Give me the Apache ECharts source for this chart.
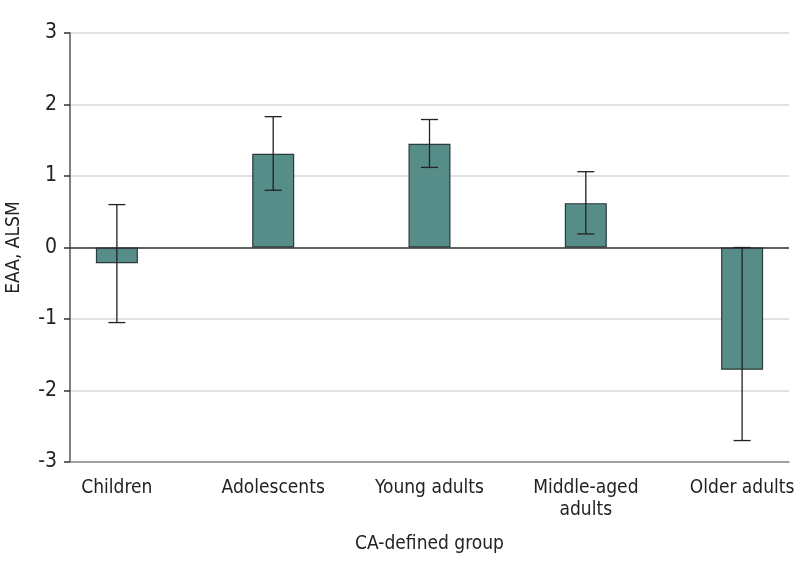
<!DOCTYPE html>
<html><head><meta charset="utf-8">
<script src="https://cdn.jsdelivr.net/npm/echarts@6/dist/echarts.min.js"></script>
<style>html,body{margin:0;padding:0;background:#fff}#c{width:798px;height:573px}</style>
</head><body><div id="c"></div>
<script>
const categories = ["Children", "Adolescents", "Young adults", "Middle-aged\nadults", "Older adults"];
const means = [-0.22, 1.31, 1.45, 0.62, -1.71];
const lower = [-1.05, 0.80, 1.12, 0.19, -2.70];
const upper = [0.60, 1.83, 1.79, 1.06, 0.00];
const yTicks = [-3, -2, -1, 0, 1, 2, 3];

const FONT = "'Liberation Sans Narrow', 'DejaVu Sans Condensed', 'Roboto Condensed', 'Liberation Sans', sans-serif";
const chart = echarts.init(document.getElementById('c'));
chart.setOption({
  animation: false,
  grid: { left: 70, right: 9, top: 33, bottom: 111, containLabel: false, outerBoundsMode: 'none' },
  xAxis: {
    type: 'value', min: -0.3, max: 4.3,
    name: 'CA-defined group', nameLocation: 'middle', nameGap: 73,
    nameTextStyle: { fontFamily: FONT, fontSize: 19, color: '#222' },
    axisLine: { show: true, onZero: false, lineStyle: { color: '#8c8c8c', width: 1.5 } },
    axisTick: { show: false },
    splitLine: { show: false },
    axisLabel: {
      customValues: [0, 1, 2, 3, 4], margin: 15,
      fontFamily: FONT, fontSize: 19, color: '#222', lineHeight: 22,
      verticalAlign: 'top',
      formatter: v => categories[Math.round(v)]
    }
  },
  yAxis: {
    type: 'value', min: -3, max: 3, interval: 1,
    name: 'EAA, ALSM', nameLocation: 'middle', nameGap: 46,
    nameTextStyle: { fontFamily: FONT, fontSize: 19, color: '#222' },
    axisLine: { show: true, onZero: false, lineStyle: { color: '#555', width: 1.5 } },
    axisTick: { show: true, inside: false, length: 6, lineStyle: { color: '#333', width: 1.5 } },
    splitLine: { show: true, lineStyle: { color: '#d9d9d9', width: 1.5 } },
    axisLabel: {
      fontFamily: FONT, fontSize: 21, color: '#222', margin: 13,
      formatter: v => yTicks.includes(v) ? String(v) : ''
    }
  },
  series: [
    {
      type: 'bar', barWidth: 42,
      data: means.map((m, i) => [i, m]),
      itemStyle: { color: '#578d89', borderColor: '#2b3b39', borderWidth: 1.2 },
      markLine: {
        silent: true, symbol: 'none', label: { show: false },
        lineStyle: { color: '#333', width: 1.5, type: 'solid' },
        data: [{ yAxis: 0 }]
      },
      z: 2
    },
    {
      type: 'custom',
      data: means.map((m, i) => [i, lower[i], upper[i]]),
      renderItem: (params, api) => {
        const x = api.value(0);
        const lo = api.coord([x, api.value(1)]);
        const hi = api.coord([x, api.value(2)]);
        const hw = 8.5;
        const st = { stroke: '#222', lineWidth: 1.3 };
        return {
          type: 'group',
          children: [
            { type: 'line', shape: { x1: lo[0], y1: lo[1], x2: hi[0], y2: hi[1] }, style: st },
            { type: 'line', shape: { x1: lo[0] - hw, y1: lo[1], x2: lo[0] + hw, y2: lo[1] }, style: st },
            { type: 'line', shape: { x1: hi[0] - hw, y1: hi[1], x2: hi[0] + hw, y2: hi[1] }, style: st }
          ]
        };
      },
      z: 5
    }
  ]
});
</script></body></html>
